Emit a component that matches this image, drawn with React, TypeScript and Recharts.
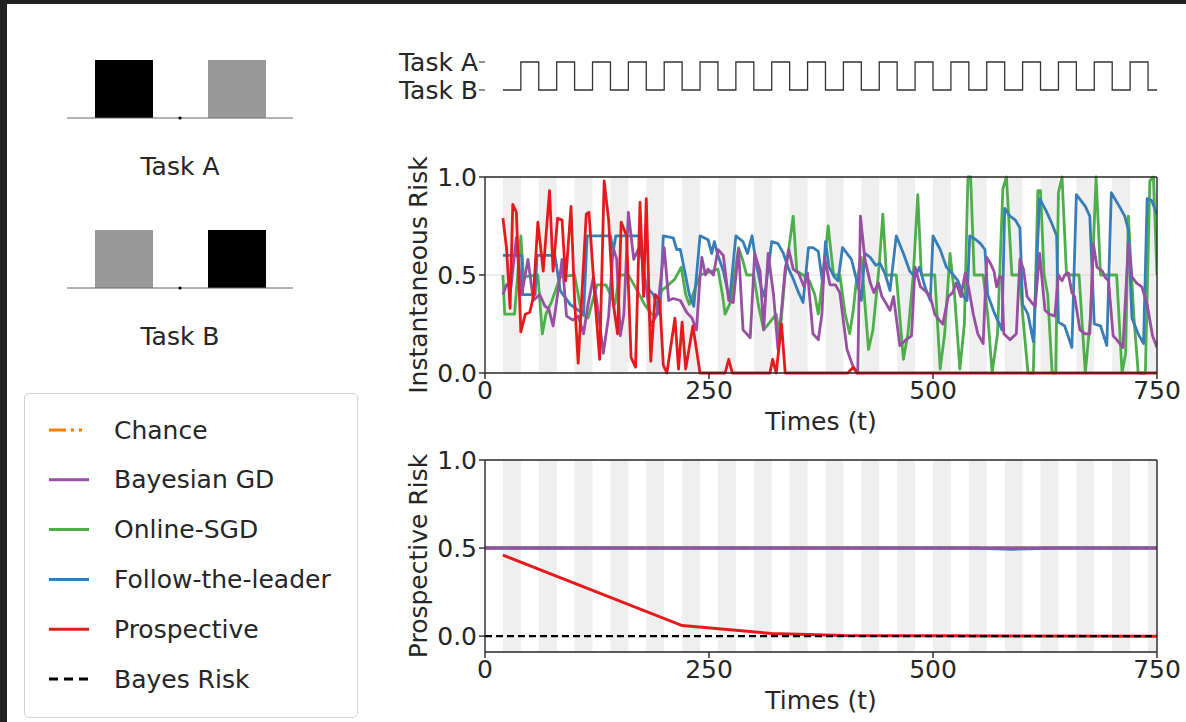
import {
  Bar,
  BarChart,
  Cell,
  Line,
  LineChart,
  ReferenceArea,
  ReferenceDot,
  ReferenceLine,
  XAxis,
  YAxis,
} from 'recharts';

const FONT = '"DejaVu Sans", sans-serif';
const INK = '#262626';

// task pictograms
const barPos = [-1, 1];
const barHeight = [1, 1];
const taskAFill = ['#000000', '#999999'];
const taskBFill = ['#999999', '#000000'];

// task schedule (1 = Task A, 0 = Task B)
const waveT = [20, 40, 60, 80, 100, 120, 140, 160, 180, 200, 220, 240, 260, 280, 300, 320, 340, 360, 380, 400, 420, 440, 460, 480, 500, 520, 540, 560, 580, 600, 620, 640, 660, 680, 700, 720, 740, 750];
const waveV = [0, 1, 0, 1, 0, 1, 0, 1, 0, 1, 0, 1, 0, 1, 0, 1, 0, 1, 0, 1, 0, 1, 0, 1, 0, 1, 0, 1, 0, 1, 0, 1, 0, 1, 0, 1, 0, 0];

// shaded task-B windows
const bandX1 = [20, 60, 100, 140, 180, 220, 260, 300, 340, 380, 420, 460, 500, 540, 580, 620, 660, 700, 740];
const bandX2 = [40, 80, 120, 160, 200, 240, 280, 320, 360, 400, 440, 480, 520, 560, 600, 640, 680, 720, 750];

const timeTicks = [0, 250, 500, 750];

// instantaneous risk
const redT = [20, 24, 28, 31, 35, 40, 45, 50, 54, 59, 65, 72, 76, 81, 86, 90, 96, 100, 104, 113, 116, 123, 128, 133, 138, 143, 148, 152, 158, 163, 168, 173, 177, 180, 185, 190, 195, 199, 203, 212, 216, 220, 224, 232, 240, 268, 272, 276, 318, 321, 325, 331, 335, 405, 411, 415, 750];
const redV = [0.79, 0.64, 0.33, 0.86, 0.82, 0.21, 0.3, 0.31, 0.39, 0.77, 0.52, 0.93, 0.52, 0.79, 0.78, 0.47, 0.85, 0.37, 0.05, 0.81, 0.82, 0.36, 0.07, 0.98, 0.78, 0.36, 0.2, 0.77, 0.7, 0.08, 0.03, 0.87, 0.39, 0.89, 0.06, 0.4, 0.37, 0.04, 0.0, 0.28, 0.02, 0.26, 0.02, 0.24, 0.0, 0.0, 0.07, 0.0, 0.0, 0.07, 0.0, 0.25, 0.0, 0.0, 0.03, 0.0, 0.0];

const blueT = [20, 41, 42, 56, 58, 78, 84, 95, 110, 114, 140, 143, 146, 174, 178, 188, 195, 199, 210, 214, 218, 222, 228, 233, 240, 249, 253, 256, 260, 266, 273, 280, 288, 293, 298, 303, 308, 312, 320, 327, 333, 339, 344, 350, 355, 361, 366, 372, 377, 380, 384, 390, 394, 399, 404, 409, 415, 420, 424, 430, 436, 441, 447, 452, 459, 467, 474, 480, 485, 491, 497, 500, 508, 515, 521, 528, 534, 538, 541, 548, 553, 558, 561, 569, 577, 580, 586, 592, 597, 600, 606, 612, 619, 626, 632, 638, 640, 647, 655, 660, 670, 675, 680, 687, 694, 699, 708, 714, 718, 722, 729, 735, 739, 744, 750];
const blueV = [0.6, 0.6, 0.4, 0.4, 0.6, 0.6, 0.42, 0.35, 0.3, 0.7, 0.7, 0.62, 0.7, 0.7, 0.45, 0.4, 0.3, 0.7, 0.69, 0.63, 0.63, 0.54, 0.4, 0.34, 0.7, 0.68, 0.61, 0.67, 0.6, 0.52, 0.37, 0.7, 0.67, 0.61, 0.7, 0.55, 0.44, 0.39, 0.67, 0.66, 0.61, 0.53, 0.48, 0.41, 0.36, 0.64, 0.64, 0.62, 0.45, 0.67, 0.54, 0.49, 0.47, 0.64, 0.61, 0.58, 0.47, 0.37, 0.61, 0.59, 0.55, 0.56, 0.5, 0.42, 0.7, 0.61, 0.52, 0.49, 0.54, 0.44, 0.37, 0.7, 0.63, 0.54, 0.51, 0.47, 0.39, 0.37, 0.7, 0.68, 0.66, 0.63, 0.4, 0.3, 0.22, 0.84, 0.8, 0.78, 0.74, 0.35, 0.3, 0.16, 0.89, 0.83, 0.77, 0.7, 0.26, 0.24, 0.13, 0.91, 0.85, 0.8, 0.25, 0.24, 0.14, 0.92, 0.85, 0.8, 0.73, 0.28, 0.2, 0.15, 0.89, 0.88, 0.81];

const greenT = [20, 22, 33, 40, 43, 59, 64, 68, 74, 84, 100, 108, 115, 125, 135, 145, 150, 160, 170, 178, 186, 192, 197, 205, 212, 219, 224, 228, 240, 260, 265, 268, 274, 283, 288, 292, 300, 305, 311, 318, 325, 329, 335, 344, 348, 355, 362, 368, 372, 376, 383, 389, 396, 402, 407, 411, 414, 420, 428, 433, 440, 444, 448, 459, 467, 472, 478, 483, 487, 502, 508, 513, 519, 524, 530, 535, 539, 542, 546, 556, 561, 566, 572, 578, 582, 588, 597, 600, 606, 612, 617, 620, 624, 628, 633, 637, 640, 644, 649, 663, 670, 676, 682, 687, 705, 711, 715, 718, 724, 729, 737, 742, 746, 750];
const greenV = [0.5, 0.3, 0.3, 0.7, 0.49, 0.5, 0.2, 0.3, 0.36, 0.49, 0.5, 0.3, 0.28, 0.45, 0.45, 0.35, 0.5, 0.5, 0.42, 0.35, 0.3, 0.3, 0.42, 0.45, 0.48, 0.54, 0.4, 0.35, 0.5, 0.53, 0.4, 0.3, 0.36, 0.64, 0.57, 0.5, 0.5, 0.35, 0.22, 0.26, 0.3, 0.19, 0.5, 0.8, 0.52, 0.5, 0.47, 0.4, 0.3, 0.45, 0.75, 0.5, 0.5, 0.3, 0.2, 0.32, 0.45, 0.59, 0.12, 0.22, 0.55, 0.81, 0.5, 0.5, 0.07, 0.2, 0.5, 0.91, 0.5, 0.5, 0.02, 0.2, 0.61, 0.4, 0.02, 0.25, 1.0, 1.0, 0.5, 0.5, 0.3, 0.0, 0.2, 0.94, 1.0, 0.5, 0.5, 0.3, 0.0, 0.0, 0.93, 0.93, 0.5, 0.4, 0.0, 0.0, 0.92, 1.0, 0.5, 0.5, 0.0, 0.3, 1.0, 0.5, 0.5, 0.0, 0.1, 0.8, 0.3, 0.0, 0.0, 0.98, 1.0, 0.5];

const purpleT = [20, 24, 29, 35, 41, 48, 54, 61, 67, 71, 76, 81, 86, 91, 98, 104, 110, 115, 121, 127, 132, 138, 143, 147, 151, 155, 160, 166, 173, 180, 185, 192, 200, 205, 210, 218, 225, 231, 236, 240, 242, 246, 249, 255, 260, 266, 272, 277, 283, 288, 296, 301, 307, 311, 316, 322, 327, 335, 339, 344, 350, 356, 360, 366, 372, 376, 379, 385, 391, 396, 404, 411, 416, 419, 424, 430, 434, 439, 443, 447, 452, 456, 463, 470, 476, 480, 486, 491, 497, 502, 507, 511, 517, 522, 526, 531, 536, 540, 545, 550, 556, 560, 564, 568, 571, 574, 577, 579, 586, 593, 597, 601, 605, 610, 614, 619, 625, 630, 636, 640, 644, 647, 651, 655, 658, 664, 670, 675, 679, 683, 689, 692, 696, 701, 705, 712, 718, 722, 727, 733, 739, 745, 750];
const purpleV = [0.4, 0.45, 0.44, 0.69, 0.4, 0.58, 0.37, 0.4, 0.34, 0.33, 0.24, 0.4, 0.58, 0.29, 0.27, 0.29, 0.2, 0.35, 0.49, 0.29, 0.1, 0.29, 0.64, 0.58, 0.19, 0.3, 0.82, 0.58, 0.65, 0.44, 0.24, 0.3, 0.64, 0.37, 0.38, 0.37, 0.31, 0.28, 0.22, 0.49, 0.59, 0.5, 0.53, 0.5, 0.63, 0.6, 0.37, 0.36, 0.63, 0.22, 0.18, 0.61, 0.52, 0.22, 0.61, 0.4, 0.12, 0.53, 0.63, 0.53, 0.51, 0.44, 0.51, 0.2, 0.17, 0.3, 0.59, 0.45, 0.45, 0.41, 0.12, 0.03, 0.0, 0.8, 0.58, 0.46, 0.41, 0.46, 0.39, 0.36, 0.32, 0.39, 0.14, 0.17, 0.19, 0.54, 0.44, 0.42, 0.39, 0.3, 0.27, 0.25, 0.39, 0.41, 0.46, 0.39, 0.51, 0.43, 0.3, 0.2, 0.15, 0.59, 0.56, 0.52, 0.44, 0.49, 0.49, 0.2, 0.17, 0.2, 0.58, 0.53, 0.39, 0.36, 0.34, 0.61, 0.32, 0.3, 0.29, 0.5, 0.47, 0.5, 0.51, 0.41, 0.39, 0.22, 0.2, 0.2, 0.66, 0.54, 0.52, 0.49, 0.47, 0.19, 0.17, 0.13, 0.66, 0.49, 0.46, 0.44, 0.35, 0.19, 0.13];

// prospective risk
const flatT = [0, 750];
const chanceV = [0.5, 0.5];
const purpleProsV = [0.5, 0.5];
const greenProsV = [0.5, 0.5];
const blueProsT = [0, 540, 590, 640, 750];
const blueProsV = [0.5, 0.5, 0.494, 0.5, 0.5];
const redProsT = [20, 220, 320, 400, 750];
const redProsV = [0.46, 0.06, 0.015, 0.003, 0];
const bayesV = [0, 0];

const legendLabels = ['Chance', 'Bayesian GD', 'Online-SGD', 'Follow-the-leader', 'Prospective', 'Bayes Risk'];
const legendColors = ['#ff7f00', '#984ea3', '#4daf4a', '#377eb8', '#e41a1c', '#000000'];
const legendDash = ['17 5 3 5 3 20', '', '', '', '', '9 6'];

const zip = (ts: number[], vs: number[]) => ts.map((t, i) => ({ t, v: vs[i] }));

const tickStyle = { fill: INK, fontSize: 25, fontFamily: FONT };
const labelStyle = { fill: INK, fontSize: 25, fontFamily: FONT };

function TaskBars({ top, label, fills }: { top: number; label: string; fills: string[] }) {
  const data = barPos.map((x, i) => ({ x, h: barHeight[i] }));
  return (
    <div style={{ position: 'absolute', left: 40, top }}>
      <BarChart width={280} height={174} data={data} margin={{ top: 20, right: 27, bottom: 0, left: 27 }}>
        <XAxis
          type="number"
          dataKey="x"
          domain={[-2, 2]}
          tick={false}
          tickLine={false}
          axisLine={{ stroke: '#666', strokeWidth: 1 }}
          height={96}
          label={{ value: label, position: 'center', ...labelStyle }}
        />
        <YAxis hide domain={[0, 1]} />
        <Bar dataKey="h" barSize={58} isAnimationActive={false}>
          {data.map((_, i) => (
            <Cell key={i} fill={fills[i]} />
          ))}
        </Bar>
        <ReferenceDot x={0} y={0} r={1.6} fill="#000" stroke="none" />
      </BarChart>
    </div>
  );
}

function Bands() {
  return bandX1.map((x1, i) => (
    <ReferenceArea key={i} x1={x1} x2={bandX2[i]} fill="#efefef" fillOpacity={1} stroke="none" />
  ));
}

const xAxisProps = {
  type: 'number' as const,
  dataKey: 't',
  domain: [0, 750],
  ticks: timeTicks,
  interval: 0 as const,
  allowDataOverflow: true,
  height: 96,
  tick: tickStyle,
  tickSize: 6,
  tickMargin: 2,
  stroke: INK,
  strokeWidth: 1.4,
};

function TaskWave() {
  const data = zip(waveT, waveV);
  return (
    <div style={{ position: 'absolute', left: 380, top: 40 }}>
      <LineChart width={806} height={70} data={data} margin={{ top: 22, right: 29, bottom: 20, left: 0 }}>
        <XAxis type="number" dataKey="t" domain={[0, 750]} hide />
        <YAxis
          type="number"
          domain={[0, 1]}
          ticks={[0, 1]}
          interval={0}
          width={105}
          axisLine={false}
          tickSize={6}
          tickMargin={1}
          stroke={INK}
          tick={tickStyle}
          tickFormatter={(v: number) => (v === 1 ? 'Task A' : 'Task B')}
        />
        <Line type="stepAfter" dataKey="v" stroke="#333" strokeWidth={1.3} dot={false} isAnimationActive={false} />
      </LineChart>
    </div>
  );
}

function InstantChart() {
  const lw = 2.8;
  return (
    <div style={{ position: 'absolute', left: 340, top: 150 }}>
      <LineChart width={846} height={319} margin={{ top: 27, right: 29, bottom: 0, left: 11 }}>
        <XAxis {...xAxisProps} label={{ value: 'Times (t)', position: 'center', ...labelStyle }} />
        <YAxis
          type="number"
          domain={[0, 1]}
          ticks={[0, 0.5, 1]}
          interval={0}
          width={134}
          tick={tickStyle}
          tickSize={6}
          tickMargin={2}
          stroke={INK}
          strokeWidth={1.4}
          tickFormatter={(v: number) => v.toFixed(1)}
          label={{ value: 'Instantaneous Risk', angle: -90, position: 'center', ...labelStyle }}
        />
        {Bands()}
        <ReferenceLine y={0.5} stroke="#dcdcdc" strokeWidth={1} />
        <Line data={zip(greenT, greenV)} dataKey="v" stroke="#4daf4a" strokeWidth={lw} strokeLinejoin="round" dot={false} isAnimationActive={false} />
        <Line data={zip(blueT, blueV)} dataKey="v" stroke="#377eb8" strokeWidth={lw} strokeLinejoin="round" dot={false} isAnimationActive={false} />
        <Line data={zip(purpleT, purpleV)} dataKey="v" stroke="#984ea3" strokeWidth={lw} strokeLinejoin="round" dot={false} isAnimationActive={false} />
        <Line data={zip(redT, redV)} dataKey="v" stroke="#e41a1c" strokeWidth={lw} strokeLinejoin="round" dot={false} isAnimationActive={false} />
        <ReferenceLine y={1} stroke={INK} strokeWidth={1.4} />
        <ReferenceLine x={750} stroke={INK} strokeWidth={1.4} />
      </LineChart>
    </div>
  );
}

function ProspectiveChart() {
  const lw = 3;
  return (
    <div style={{ position: 'absolute', left: 340, top: 430 }}>
      <LineChart width={846} height={318} margin={{ top: 30, right: 29, bottom: 0, left: 11 }}>
        <XAxis {...xAxisProps} label={{ value: 'Times (t)', position: 'center', ...labelStyle }} />
        <YAxis
          type="number"
          domain={[-0.09, 1]}
          ticks={[0, 0.5, 1]}
          interval={0}
          allowDataOverflow
          width={134}
          tick={tickStyle}
          tickSize={6}
          tickMargin={2}
          stroke={INK}
          strokeWidth={1.4}
          tickFormatter={(v: number) => v.toFixed(1)}
          label={{ value: 'Prospective Risk', angle: -90, position: 'center', ...labelStyle }}
        />
        {Bands()}
        <Line data={zip(flatT, chanceV)} dataKey="v" stroke="#ff7f00" strokeWidth={lw} strokeDasharray="12 4 3 4" dot={false} isAnimationActive={false} />
        <Line data={zip(flatT, greenProsV)} dataKey="v" stroke="#4daf4a" strokeWidth={lw} dot={false} isAnimationActive={false} />
        <Line data={zip(blueProsT, blueProsV)} dataKey="v" stroke="#377eb8" strokeWidth={lw} dot={false} isAnimationActive={false} />
        <Line data={zip(flatT, purpleProsV)} dataKey="v" stroke="#984ea3" strokeWidth={lw} dot={false} isAnimationActive={false} />
        <Line data={zip(redProsT, redProsV)} dataKey="v" stroke="#e41a1c" strokeWidth={lw} dot={false} isAnimationActive={false} />
        <Line data={zip(flatT, bayesV)} dataKey="v" stroke="#000000" strokeWidth={2.4} strokeDasharray="7 4" dot={false} isAnimationActive={false} />
        <ReferenceLine y={1} stroke={INK} strokeWidth={1.4} />
        <ReferenceLine x={750} stroke={INK} strokeWidth={1.4} />
      </LineChart>
    </div>
  );
}

function LegendBox() {
  return (
    <div
      style={{
        position: 'absolute',
        left: 24,
        top: 393,
        width: 332,
        height: 323,
        border: '1px solid #d4d4d4',
        borderRadius: 5,
        background: '#fff',
      }}
    >
      <svg width={332} height={323}>
        {legendLabels.map((name, i) => {
          const y = 36 + i * 49.8;
          return (
            <g key={name}>
              <line
                x1={24}
                x2={64}
                y1={y}
                y2={y}
                stroke={legendColors[i]}
                strokeWidth={3}
                strokeDasharray={legendDash[i] || undefined}
              />
              <text x={89} y={y} dominantBaseline="central" fill={INK} fontSize={25} fontFamily={FONT}>
                {name}
              </text>
            </g>
          );
        })}
      </svg>
    </div>
  );
}

export default function App() {
  return (
    <div
      style={{
        position: 'absolute',
        left: 0,
        top: 0,
        width: 1186,
        height: 722,
        background: '#222222',
        overflow: 'hidden',
        fontFamily: FONT,
      }}
    >
      <div style={{ position: 'absolute', left: 7, top: 4, right: 0, bottom: 0, background: '#ffffff' }} />
      <TaskBars top={40} label="Task A" fills={taskAFill} />
      <TaskBars top={210} label="Task B" fills={taskBFill} />
      <LegendBox />
      <TaskWave />
      <InstantChart />
      <ProspectiveChart />
    </div>
  );
}
